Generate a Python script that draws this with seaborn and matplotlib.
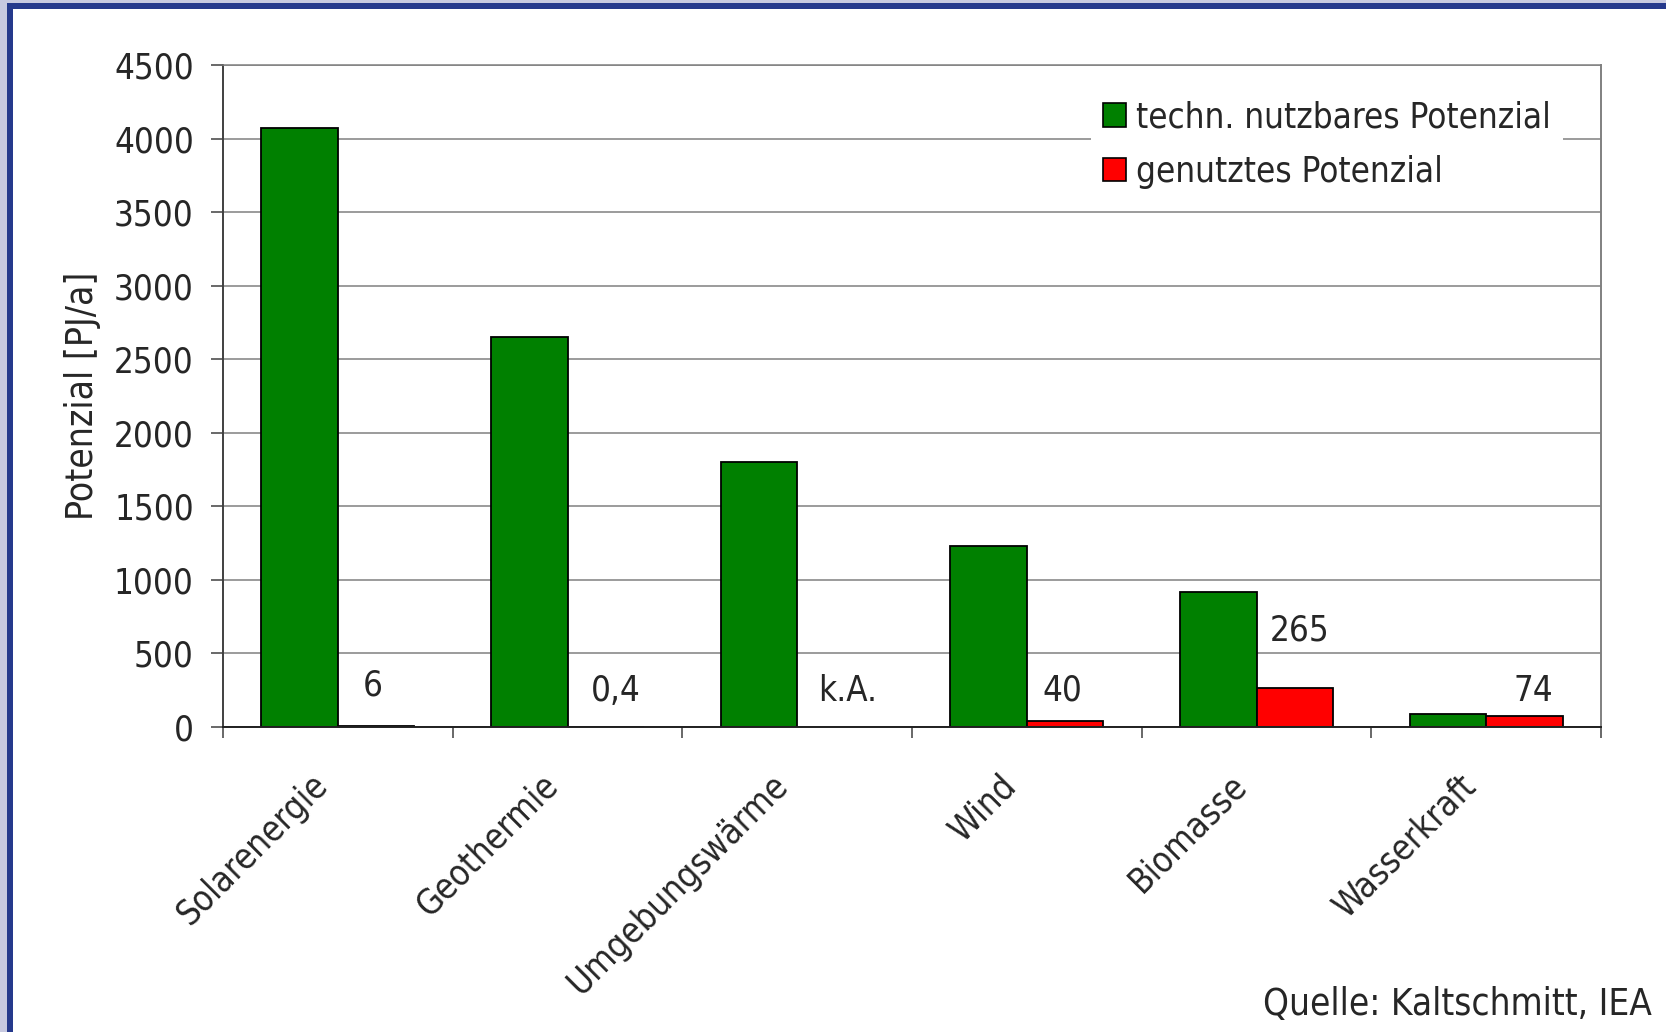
import numpy as np
import pandas as pd
import seaborn as sns
import matplotlib
matplotlib.use("Agg")
import matplotlib.pyplot as plt
from matplotlib.patches import Rectangle, Patch
from matplotlib.transforms import ScaledTranslation
from matplotlib import font_manager as fm

# --- data -------------------------------------------------------------
categories = ["Solarenergie", "Geothermie", "Umgebungswärme", "Wind", "Biomasse", "Wasserkraft"]
series_names = ["techn. nutzbares Potenzial", "genutztes Potenzial"]
technisch = [4070, 2650, 1800, 1230, 920, 90]
genutzt = [6, 0.4, np.nan, 40, 265, 74]
genutzt_labels = ["6", "0,4", "k.A.", "40", "265", "74"]
y_ticks = [0, 500, 1000, 1500, 2000, 2500, 3000, 3500, 4000, 4500]

# placement of the value annotations (data units)
label_heights = [285, 245, 245, 245, 658, 245]
label_shift_x = [-0.014, 0.042, 0.055, -0.01, 0.02, 0.037]

# --- style ------------------------------------------------------------
sns.set_style("white")
condensed = any(f.name == "DejaVu Sans" and str(f.stretch).lower() in ("condensed", "semi-condensed")
                for f in fm.fontManager.ttflist)
plt.rcParams["font.family"] = ["DejaVu Sans"]
if condensed:
    plt.rcParams["font.stretch"] = "condensed"
    fs = 25
else:
    fs = 22.5

colors = {series_names[0]: "#008000", series_names[1]: "#FF0000"}

df = pd.DataFrame({
    "Kategorie": categories * 2,
    "Reihe": [series_names[0]] * len(categories) + [series_names[1]] * len(categories),
    "Wert": technisch + genutzt,
})

W, H, DPI = 1666, 1032, 100
fig = plt.figure(figsize=(W / DPI, H / DPI), dpi=DPI, facecolor="white")
ax = fig.add_axes([223 / W, 1 - 727 / H, (1601 - 223) / W, (727 - 65) / H])

sns.barplot(data=df, x="Kategorie", y="Wert", hue="Reihe", order=categories,
            hue_order=series_names, palette=colors, width=2 / 3, gap=0,
            saturation=1, errorbar=None, edgecolor="black", linewidth=1.3,
            legend=False, ax=ax)

ax.set_xlim(-0.5, len(categories) - 0.5)
ax.set_ylim(0, 4500)
ax.set_yticks(y_ticks)
ax.set_xlabel("")
ax.set_ylabel("Potenzial [PJ/a]", fontsize=fs * 1.07)
ax.yaxis.set_label_coords((101 - 223) / (1601 - 223), 0.5)

# grid and frame
ax.set_axisbelow(True)
ax.yaxis.grid(True, color="#808080", linewidth=1.1)
ax.xaxis.grid(False)
ax.spines["top"].set_color("#808080")
ax.spines["top"].set_linewidth(1.1)
ax.spines["right"].set_color("#808080")
ax.spines["right"].set_linewidth(1.4)
ax.spines["left"].set_color("#404040")
ax.spines["left"].set_linewidth(1.4)
ax.spines["bottom"].set_color("#202020")
ax.spines["bottom"].set_linewidth(1.4)

ax.tick_params(axis="y", direction="out", length=9, width=1.1, color="#404040",
               pad=12, labelsize=fs, left=True)
ax.set_xticks(np.arange(-0.5, len(categories), 1.0), minor=True)
ax.tick_params(axis="x", which="minor", direction="out", length=8, width=1.1,
               color="#404040", bottom=True)
ax.tick_params(axis="x", which="major", length=0, pad=0, labelsize=fs)
for lbl in ax.get_xticklabels():
    lbl.set_rotation(45)
    lbl.set_rotation_mode("anchor")
    lbl.set_ha("right")
    lbl.set_va("center")
    lbl.set_transform(lbl.get_transform() + ScaledTranslation(-11 / 72, -38 / 72, fig.dpi_scale_trans))

# value annotations above the used-potential bars
for i, (txt, yh, dx) in enumerate(zip(genutzt_labels, label_heights, label_shift_x)):
    ax.text(i + 1 / 6 + dx, yh, txt, ha="center", va="center", fontsize=fs)

# legend
handles = [Patch(facecolor=colors[n], edgecolor="black", linewidth=1.2) for n in series_names]
leg = ax.legend(handles, series_names, loc="upper left", bbox_to_anchor=(1091 / W, 1 - 88 / H),
                bbox_transform=fig.transFigure, fontsize=fs, frameon=True, fancybox=False,
                framealpha=1, facecolor="white", edgecolor="none", borderpad=0.35,
                handlelength=0.65, handleheight=0.65, handletextpad=0.3, labelspacing=0.6,
                borderaxespad=0)

# source note
fig.text(1652 / W, 1 - 1005 / H, "Quelle: Kaltschmitt, IEA", ha="right", va="center",
         fontsize=fs * 1.06)

# slide frame (left and top edges)
fig.add_artist(Rectangle((0, 0), 7 / W, 1, transform=fig.transFigure, facecolor="#C7C9E0",
                         edgecolor="none", zorder=10))
fig.add_artist(Rectangle((0, 1 - 3 / H), 1, 3 / H, transform=fig.transFigure, facecolor="#C7C9E0",
                         edgecolor="none", zorder=10))
fig.add_artist(Rectangle((7 / W, 0), 5.5 / W, 1 - 3 / H, transform=fig.transFigure,
                         facecolor="#25398C", edgecolor="none", zorder=11))
fig.add_artist(Rectangle((7 / W, 1 - 9 / H), 1, 6 / H, transform=fig.transFigure,
                         facecolor="#25398C", edgecolor="none", zorder=11))

fig.savefig("out.png", dpi=DPI, facecolor="white")
